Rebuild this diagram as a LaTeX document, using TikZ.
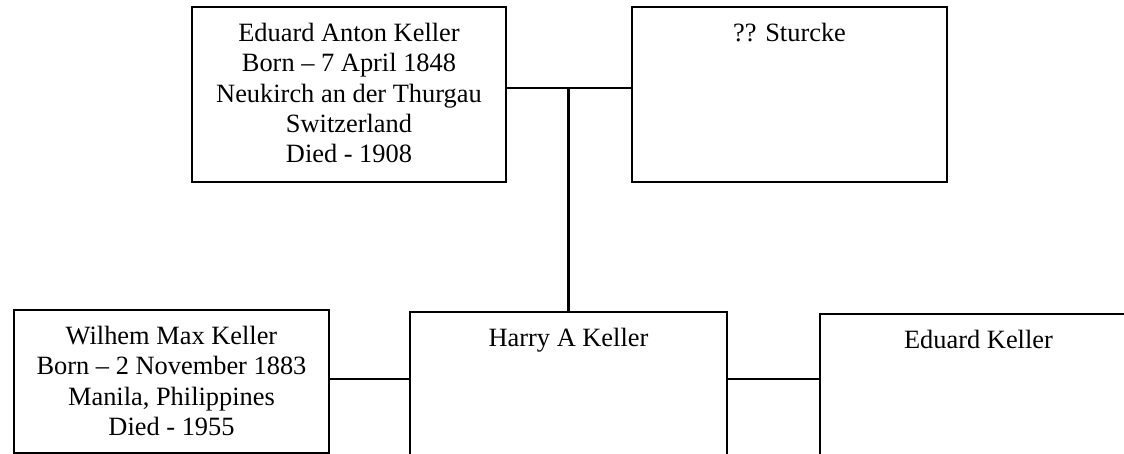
\documentclass[tikz,border=0pt]{standalone}
\usepackage{fontspec}
\setmainfont{Liberation Serif}
\begin{document}
\begin{tikzpicture}[x=1pt,y=-1pt,
  person/.style={draw=black, line width=1.5pt, rectangle, inner sep=0pt},
  nametext/.style={font=\fontsize{26.4}{30.4}\selectfont, align=center, anchor=base, inner sep=0pt},
  link/.style={line width=2pt},
  descent/.style={line width=3pt}]
\path[use as bounding box, clip] (0,0) rectangle (1124,454);
% top row
\node[person, minimum width=314pt, minimum height=175pt] (A) at (349,94.5) {};
\node[person, minimum width=315pt, minimum height=175pt] (B) at (789.5,94.5) {};
% bottom row
\node[person, minimum width=315pt, minimum height=143pt] (W) at (171.5,381.5) {};
\node[person, minimum width=317pt, minimum height=170pt] (H) at (568.5,397) {};
\node[person, minimum width=317pt, minimum height=170pt] (E) at (978.5,399) {};
% texts (anchor = baseline of last line)
\node[nametext] (tA) at ([yshift=-156.6pt]A.north) {Eduard Anton Keller\\Born – 7 April 1848\\Neukirch an der Thurgau\\Switzerland\\Died - 1908};
\node[nametext] (tB) at ([yshift=-35pt]B.north) {?? Sturcke};
\node[nametext] (tW) at ([yshift=-126.2pt]W.north) {Wilhem Max Keller\\Born – 2 November 1883\\Manila, Philippines\\Died - 1955};
\node[nametext] (tH) at ([yshift=-35pt]H.north) {Harry A Keller};
\node[nametext] (tE) at ([yshift=-35pt]E.north) {Eduard Keller};
% connectors
\draw[link] ([yshift=6.5pt]A.east) -- ([yshift=6.5pt]B.west);
\draw[descent] (H.north |- 0,88) -- (H.north);
\draw[link] (W.east |- 0,379) -- (H.west |- 0,379);
\draw[link] (H.east |- 0,379) -- (E.west |- 0,379);
\end{tikzpicture}
\end{document}
